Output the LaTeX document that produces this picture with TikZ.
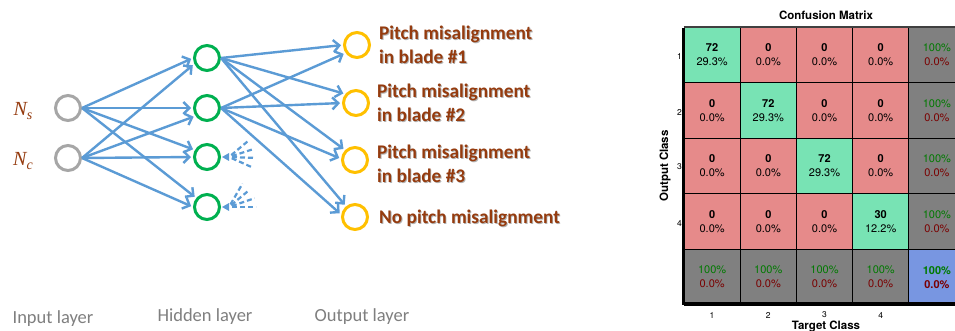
\documentclass[tikz,border=0pt]{standalone}
\usepackage{fontspec}
\setmainfont{Carlito}
\newfontfamily\helv{TeX Gyre Heros}
\newfontfamily\lserif{Liberation Serif}
\usetikzlibrary{arrows.meta,calc}
\definecolor{eblue}{HTML}{5B9BD5}
\definecolor{ngreen}{HTML}{00B050}
\definecolor{ngray}{HTML}{A6A6A6}
\definecolor{nyel}{HTML}{FFC000}
\definecolor{brn}{HTML}{953B0E}
\definecolor{lgray}{HTML}{7F7F7F}
\definecolor{cgreen}{HTML}{78E3B4}
\definecolor{cred}{HTML}{E68A8A}
\definecolor{cgray}{HTML}{808080}
\definecolor{cblue}{HTML}{7896E1}
\definecolor{dgreen}{HTML}{007A00}
\definecolor{dred}{HTML}{7A0000}
\newcommand\shtext[1]{\makebox[0pt][l]{\kern0.9pt\raisebox{-0.9pt}{\textcolor{black!30}{#1}}}#1}
\newcommand\zerocell{\textbf{0}\\0.0\%}
\newcommand\sumcell{\textcolor{dgreen}{100\%}\\\textcolor{dred}{0.0\%}}
\tikzset{
  neuron/.style={circle,draw,line width=3pt,minimum size=25pt,inner sep=0pt},
  inp/.style={neuron,draw=ngray},
  hid/.style={neuron,draw=ngreen},
  outn/.style={neuron,draw=nyel},
  edge/.style={eblue,line width=2.4pt,-{Straight Barb[length=6pt,width=12pt]},shorten >=2pt},
  dashray/.style={eblue,line width=2.2pt,dash pattern=on 5pt off 3pt},
  lbl/.style={anchor=west,inner sep=0pt,align=left,text=brn,font=\fontsize{19.3}{24}\selectfont\bfseries},
  layer/.style={inner sep=0pt,text=lgray,font=\fontsize{18.5}{20}\selectfont},
  inlbl/.style={inner sep=0pt,text=brn,font=\fontsize{20}{20}\selectfont\lserif\itshape},
  cell/.style={rectangle,draw=black,line width=0.8pt,minimum width=56.2pt,minimum height=55.6pt,inner sep=0pt,align=center,font=\fontsize{11}{14}\selectfont\helv},
  cg/.style={cell,fill=cgreen},
  cr/.style={cell,fill=cred},
  cs/.style={cell,fill=cgray},
  ct/.style={cell,fill=cblue,font=\fontsize{11}{14}\selectfont\helv\bfseries},
  axnum/.style={inner sep=0pt,font=\fontsize{8.5}{9}\selectfont\helv},
  axlbl/.style={inner sep=0pt,font=\fontsize{11.5}{13}\selectfont\helv\bfseries}
}
\begin{document}
\begin{tikzpicture}[x=1pt,y=-1pt]
\useasboundingbox (0,0) rectangle (955,331);
\clip (0,0) rectangle (955,331);
\fill[white] (0,0) rectangle (955,331);
% ---------- neural network ----------
\node[inp] (ns) at (68,108) {};
\node[inp] (nc) at (68,158) {};
\node[hid] (h1) at (207,58) {};
\node[hid] (h2) at (207,108) {};
\node[hid] (h3) at (207,157) {};
\node[hid] (h4) at (207,207) {};
\node[outn] (o1) at (357,45) {};
\node[outn] (o2) at (356,103) {};
\node[outn] (o3) at (355,160) {};
\node[outn] (o4) at (355,217) {};
\node[inlbl] (lns) at (23,111) {N\raisebox{-4pt}{\fontsize{14}{14}\selectfont s}};
\node[inlbl] (lnc) at (23,161) {N\raisebox{-4pt}{\fontsize{14}{14}\selectfont c}};
% input -> hidden
\draw[edge] (ns.east) -- (h1.west);
\draw[edge] (nc.east) -- (h1.205);
\draw[edge] (ns.east) -- (h2.west);
\draw[edge] (nc.east) -- (h2.215);
\draw[edge] (ns.east) -- (h3.150);
\draw[edge] (nc.east) -- (h3.west);
\draw[edge] (ns.east) -- (h4.140);
\draw[edge] (nc.east) -- (h4.west);
% hidden -> output
\draw[edge] (h1.east) -- (o1.west);
\draw[edge] (h2.east) -- (o1.215);
\draw[edge] (h1.east) -- (o2.140);
\draw[edge] (h2.east) -- (o2.west);
\draw[edge] (h1.east) -- (o3.135);
\draw[edge] (h2.east) -- (o3.175);
\draw[edge] (h1.east) -- (o4.130);
\draw[edge] (h2.east) -- (o4.170);
% dashed fans
\fill[eblue] ([xshift=1pt]h3.east) -- ++(7,-4) -- ++(0,8) -- cycle;
\fill[eblue] ([xshift=1pt]h4.east) -- ++(7,-4) -- ++(0,8) -- cycle;
\foreach \a in {40,18,-2,-24}{
  \draw[dashray] ([xshift=8pt]h3.east) ++(\a:3pt) -- ++(\a:23pt);
}
\foreach \a in {60,40,19,0}{
  \draw[dashray] ([xshift=8pt]h4.east) ++(\a:3pt) -- ++(\a:24pt);
}
% output labels
\node[lbl] (l1) at (379,45) {\shtext{Pitch misalignment}\\\shtext{in blade \#1}};
\node[lbl] (l2) at (377,103) {\shtext{Pitch misalignment}\\\shtext{in blade \#2}};
\node[lbl] (l3) at (377,164) {\shtext{Pitch misalignment}\\\shtext{in blade \#3}};
\node[lbl] (l4) at (379,219) {\shtext{No pitch misalignment}};
% layer labels
\node[layer] (li) at (53,319) {Input layer};
\node[layer] (lh) at (205,317) {Hidden layer};
\node[layer] (lo) at (362,317) {Output layer};
% ---------- confusion matrix ----------
\node[cg] (m11) at (712.1,54.8) {\textbf{72}\\29.3\%};
\node[cr] (m12) at (768.3,54.8) {\zerocell};
\node[cr] (m13) at (824.5,54.8) {\zerocell};
\node[cr] (m14) at (880.7,54.8) {\zerocell};
\node[cs] (m15) at (936.9,54.8) {\sumcell};
\node[cr] (m21) at (712.1,110.4) {\zerocell};
\node[cg] (m22) at (768.3,110.4) {\textbf{72}\\29.3\%};
\node[cr] (m23) at (824.5,110.4) {\zerocell};
\node[cr] (m24) at (880.7,110.4) {\zerocell};
\node[cs] (m25) at (936.9,110.4) {\sumcell};
\node[cr] (m31) at (712.1,166) {\zerocell};
\node[cr] (m32) at (768.3,166) {\zerocell};
\node[cg] (m33) at (824.5,166) {\textbf{72}\\29.3\%};
\node[cr] (m34) at (880.7,166) {\zerocell};
\node[cs] (m35) at (936.9,166) {\sumcell};
\node[cr] (m41) at (712.1,221.6) {\zerocell};
\node[cr] (m42) at (768.3,221.6) {\zerocell};
\node[cr] (m43) at (824.5,221.6) {\zerocell};
\node[cg] (m44) at (880.7,221.6) {\textbf{30}\\12.2\%};
\node[cs] (m45) at (936.9,221.6) {\sumcell};
\node[cs] (m51) at (712.1,277.2) {\sumcell};
\node[cs] (m52) at (768.3,277.2) {\sumcell};
\node[cs] (m53) at (824.5,277.2) {\sumcell};
\node[cs] (m54) at (880.7,277.2) {\sumcell};
\node[ct] (m55) at (936.9,277.2) {\sumcell};
% thick frame
\draw[line width=2pt,black!75] (m11.north west) -- (m15.north east);
\draw[line width=2.6pt,black] ([yshift=-1pt]m11.north west) -- ([yshift=1.5pt]m51.south west);
\draw[line width=3pt,black] ([xshift=-1.3pt,yshift=1.5pt]m51.south west) -- ([yshift=1.5pt]m55.south east);
% axis numbers
\foreach \i/\y in {1/56,2/112,3/167,4/223}{
  \node[axnum,anchor=east] (r\i) at (682,\y) {\i};
}
\foreach \i/\x in {1/712.1,2/768.3,3/824.5,4/880.7}{
  \node[axnum] (k\i) at (\x,315) {\i};
}
\node[axlbl] (title) at (826,15) {Confusion Matrix};
\node[axlbl] (tcl) at (826,326.5) {Target Class};
\node[axlbl,rotate=90] (ocl) at (665,166) {Output Class};
\end{tikzpicture}
\end{document}
